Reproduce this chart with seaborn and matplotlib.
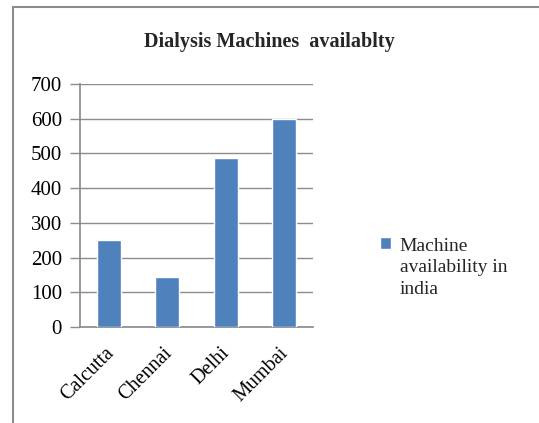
import matplotlib
matplotlib.use("Agg")
import matplotlib.pyplot as plt
import matplotlib.transforms as mtransforms
import seaborn as sns
import pandas as pd
from matplotlib.patches import Rectangle

# data
cities = ["Calcutta", "Chennai", "Delhi", "Mumbai"]
machines = [250, 145, 487, 598]
series_name = "Machine\navailability in\nindia"
yticks = [0, 100, 200, 300, 400, 500, 600, 700]

df = pd.DataFrame({"city": cities, "machines": machines})

sns.set_theme(style="white")
plt.rcParams["font.family"] = ["Liberation Serif", "DejaVu Serif"]

bar_color = "#4F81BD"
grid_color = "#8C8C8C"

fig = plt.figure(figsize=(5.39, 4.23), dpi=100)
ax = fig.add_axes([0.1484, 0.2270, 0.4323, 0.5744])

sns.barplot(data=df, x="city", y="machines", color=bar_color, width=0.41,
            saturation=1, ax=ax, label=series_name, zorder=3)

ax.set_ylim(0, 700)
ax.set_xlim(-0.5, len(cities) - 0.5)
ax.set_yticks(yticks)
ax.set_yticklabels([str(v) for v in yticks], fontsize=15, color="black")
ax.yaxis.grid(True, color=grid_color, linewidth=1, zorder=0)
ax.xaxis.grid(False)

# category boundary ticks on x axis
ax.set_xticks([i - 0.5 for i in range(len(cities) + 1)], minor=True)
ax.tick_params(axis="x", which="minor", length=6, color=grid_color, width=1)
ax.tick_params(axis="x", which="major", length=0, pad=7)
ax.tick_params(axis="y", length=7, color=grid_color, width=1, pad=6, left=True)
ax.set_xticks(range(len(cities)))
ax.set_xticklabels(cities, rotation=45, ha="right", rotation_mode="anchor",
                   fontsize=14.5, color="black")
shift = mtransforms.ScaledTranslation(-0.05, -0.07, fig.dpi_scale_trans)
for lbl in ax.get_xticklabels():
    lbl.set_transform(lbl.get_transform() + shift)

for side in ["top", "right"]:
    ax.spines[side].set_visible(False)
ax.spines["left"].set_color(grid_color)
ax.spines["bottom"].set_color(grid_color)
ax.set_xlabel("")
ax.set_ylabel("")

fig.text(0.499, 0.9, "Dialysis Machines  availablty", ha="center", va="center",
         fontsize=14.5, fontweight="bold")

leg_fs = 14
leg = ax.legend(loc="upper left", bbox_to_anchor=(0.673, 0.479),
                bbox_transform=fig.transFigure, frameon=False, fontsize=leg_fs,
                handlelength=0.55, handleheight=0.55, handletextpad=0.45,
                labelspacing=0.2)
for t in leg.get_texts():
    t.set_linespacing(1.35)
# put the marker next to the first line of the label, as in the reference
hnd = leg.legend_handles[0]
hnd.set_y(hnd.get_y() + leg_fs * 1.25)

# outer chart border
fig.patches.append(Rectangle((13 / 539, -0.1), 1.2, 1 - 7 / 423 + 0.1,
                             transform=fig.transFigure, fill=False,
                             edgecolor="#8C8C8C", linewidth=1.5))

fig.savefig("out.png", dpi=100)
